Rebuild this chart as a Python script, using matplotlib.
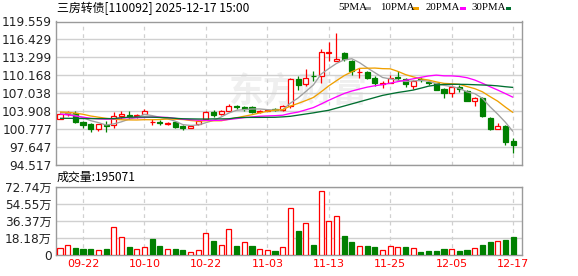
import matplotlib
matplotlib.use("Agg")
import matplotlib.pyplot as plt
from matplotlib.patches import Rectangle
import numpy as np

# ---------------- data ----------------
title = "三房转债[110092] 2025-12-17 15:00"
vol_title = "成交量:195071"
date_ticks = [3, 11, 19, 27, 35, 43, 51, 59]
date_labels = ["09-22", "10-10", "10-22", "11-03", "11-13", "11-25", "12-05", "12-17"]

opens = [102.6, 103.45, 103.67, 102.05, 101.7, 100.9, 101.55, 101.5, 103.15, 103.35,
         103.1, 103.44, 102.0, 102.1, 101.7, 102.0, 101.4, 101.06, 101.65, 102.57,
         103.85, 103.44, 104.02, 104.85, 104.65, 104.7, 103.74, 104.05, 104.3, 104.1,
         104.8, 109.5, 108.6, 110.15, 110.1, 114.1, 112.7, 114.0, 112.7, 110.8,
         110.8, 109.8, 108.75, 108.9, 109.9, 109.47, 108.4, 109.5, 109.0, 108.78,
         107.8, 107.04, 108.2, 107.5, 105.7, 106.17, 102.69, 100.9, 101.36, 98.75]
highs = [103.6, 104.05, 104.0, 102.25, 101.9, 101.75, 102.3, 103.85, 103.9, 103.9,
         103.45, 104.3, 102.5, 102.4, 102.0, 102.15, 101.5, 101.45, 102.4, 104.0,
         104.2, 104.1, 105.2, 105.1, 104.8, 104.85, 104.2, 104.35, 104.5, 104.95,
         109.7, 110.1, 111.3, 110.9, 114.8, 115.95, 117.6, 114.3, 112.9, 111.4,
         111.0, 110.0, 109.2, 110.2, 110.9, 109.65, 109.36, 109.9, 109.35, 108.9,
         108.0, 108.5, 108.5, 107.7, 106.46, 106.46, 102.98, 101.82, 101.53, 99.2]
lows = [102.5, 103.1, 101.9, 101.0, 100.3, 100.5, 100.3, 101.0, 102.5, 102.5,
        102.8, 103.4, 101.5, 101.6, 101.5, 101.0, 100.75, 100.95, 101.5, 102.4,
        103.0, 103.3, 103.9, 104.4, 103.95, 103.7, 103.6, 103.9, 103.95, 103.9,
        104.5, 107.7, 108.3, 109.2, 108.85, 112.6, 112.6, 112.6, 110.3, 109.8,
        109.5, 108.4, 108.0, 108.8, 109.24, 108.2, 107.8, 109.0, 108.5, 107.6,
        106.3, 106.35, 107.3, 105.7, 104.84, 102.98, 100.66, 100.9, 98.05, 96.72]
closes = [103.4, 103.55, 102.1, 101.6, 100.84, 101.7, 101.4, 103.1, 103.4, 103.15,
          103.3, 103.96, 102.05, 101.95, 101.8, 101.25, 100.95, 101.35, 102.28, 103.85,
          103.27, 103.96, 104.8, 104.6, 104.4, 103.85, 104.0, 104.2, 104.2, 104.8,
          109.5, 108.5, 109.8, 110.0, 114.2, 114.25, 113.0, 113.0, 110.9, 110.85,
          109.7, 108.8, 108.8, 109.65, 109.76, 108.6, 109.18, 109.36, 108.9, 107.6,
          107.15, 108.2, 107.8, 105.7, 106.17, 103.1, 100.78, 101.36, 98.63, 98.05]

ma5 = [103.7, 103.6, 103.2, 102.8, 102.29, 101.95, 101.53, 101.73, 102.09, 102.55,
       102.87, 103.38, 103.17, 102.88, 102.61, 102.2, 101.6, 101.46, 101.53, 101.94,
       102.34, 102.94, 103.63, 104.1, 104.21, 104.32, 104.33, 104.21, 104.13, 104.21,
       105.34, 106.24, 107.36, 108.52, 110.4, 111.35, 112.25, 112.89, 113.07, 112.4,
       111.49, 110.65, 109.81, 109.56, 109.34, 109.12, 109.2, 109.31, 109.16, 108.73,
       108.44, 108.24, 107.93, 107.29, 107.0, 106.19, 104.71, 103.42, 102.01, 100.38]
ma10 = [103.8, 103.75, 103.6, 103.4, 103.1, 102.9, 102.7, 102.55, 102.45, 102.42,
        102.41, 102.46, 102.45, 102.49, 102.58, 102.54, 102.49, 102.32, 102.2, 102.27,
        102.27, 102.27, 102.55, 102.81, 103.07, 103.33, 103.64, 103.92, 104.11, 104.21,
        104.83, 105.29, 105.79, 106.33, 107.31, 108.35, 109.25, 110.13, 110.8, 111.4,
        111.42, 111.45, 111.35, 111.32, 110.87, 110.31, 109.92, 109.56, 109.36, 109.04,
        108.78, 108.72, 108.62, 108.23, 107.87, 107.32, 106.48, 105.68, 104.65, 103.69]
ma20 = [103.45, 103.3, 103.1, 102.9, 102.7, 102.6, 102.55, 102.6, 102.75, 102.8,
        102.8, 102.85, 102.9, 102.9, 102.85, 102.7, 102.55, 102.45, 102.38, 102.35,
        102.34, 102.36, 102.5, 102.65, 102.83, 102.93, 103.06, 103.12, 103.16, 103.24,
        103.55, 103.78, 104.17, 104.57, 105.19, 105.84, 106.44, 107.02, 107.45, 107.8,
        108.13, 108.37, 108.57, 108.82, 109.09, 109.33, 109.58, 109.84, 110.08, 110.22,
        110.1, 110.09, 109.99, 109.77, 109.37, 108.81, 108.2, 107.62, 107.0, 106.36]
ma30 = [102.7, 102.7, 102.68, 102.66, 102.65, 102.65, 102.65, 102.65, 102.8, 102.9,
        102.92, 102.92, 102.9, 102.85, 102.8, 102.7, 102.62, 102.6, 102.58, 102.57,
        102.6, 102.6, 102.62, 102.8, 102.85, 102.86, 102.86, 102.87, 102.88, 102.95,
        103.05, 103.25, 103.45, 103.65, 103.88, 104.1, 104.47, 104.84, 105.21, 105.58,
        105.95, 106.32, 106.69, 106.95, 107.2, 107.4, 107.62, 107.95, 108.3, 108.5,
        108.6, 108.62, 108.62, 108.6, 108.55, 108.5, 108.45, 108.35, 108.2, 108.08]

volumes = [7.1, 10.3, 7.5, 6.4, 6.4, 5.0, 6.4, 29.9, 19.2, 8.6,
           6.1, 8.2, 17.1, 9.6, 6.1, 6.4, 5.3, 2.9, 5.0, 23.2,
           15.0, 10.3, 27.4, 9.6, 13.5, 9.6, 6.1, 5.0, 4.3, 8.2,
           49.9, 25.7, 33.9, 10.7, 68.1, 36.0, 41.4, 20.3, 13.9, 9.6,
           9.6, 8.6, 5.0, 9.6, 8.6, 8.6, 7.1, 3.2, 4.3, 4.3,
           6.4, 6.1, 4.3, 5.3, 7.1, 10.7, 13.9, 14.6, 16.0, 19.5]
vol_up = [1, 1, 0, 0, 0, 1, 0, 1, 1, 0, 1, 1, 0, 0, 1, 0, 0, 1, 1, 1,
          0, 1, 1, 0, 1, 0, 1, 1, 0, 1, 1, 0, 1, 0, 1, 1, 1, 0, 0, 1,
          0, 0, 1, 1, 1, 0, 1, 0, 0, 0, 0, 1, 0, 0, 1, 0, 0, 1, 0, 0]

price_ticks = [94.517, 97.647, 100.777, 103.908, 107.038, 110.168, 113.299, 116.429, 119.559]
vol_ticks = [0, 18.185, 36.37, 54.555, 72.74]
vol_tick_labels = ["0", "18.18万", "36.37万", "54.55万", "72.74万"]

ma_names = ["5PMA", "10PMA", "20PMA", "30PMA"]
ma_colors = ["#a0a0a0", "#f0a000", "#ff00ff", "#006f30"]

# ---------------- style ----------------
UP = "#ff0000"
DOWN = "#008000"
GRID = "#d0d0d0"
SPINE = "#9a9a9a"
TXT = "#222222"
W, H = 578, 276

fig = plt.figure(figsize=(W / 100, H / 100), dpi=100)
fig.patch.set_facecolor("white")

def fr(x0, y0, x1, y1):
    return [x0 / W, 1 - y1 / H, (x1 - x0) / W, (y1 - y0) / H]

ax = fig.add_axes(fr(56, 21.5, 522, 165.3))
axv = fig.add_axes(fr(56, 187, 522, 255))

n = len(closes)
x = np.arange(n)
xlim = (-0.52, 60.16)
bw = 0.66

# watermark
ax.text(0.52, 0.52, "东方财富", transform=ax.transAxes, ha="center", va="center",
        fontsize=25, fontweight="bold", color="#efefef", zorder=0,
        family=["Noto Sans CJK SC", "DejaVu Sans"])

# candles
for i in range(n):
    o, h, l, c = opens[i], highs[i], lows[i], closes[i]
    up = c >= o
    col = UP if up else DOWN
    ax.vlines(x[i], l, h, color=col, lw=0.9, zorder=3)
    bot = min(o, c)
    ht = max(abs(c - o), 0.04)
    ax.add_patch(Rectangle((x[i] - bw / 2, bot), bw, ht,
                           facecolor="white" if up else DOWN,
                           edgecolor=col, lw=0.9, zorder=4))

for vals, colr in zip([ma5, ma10, ma20, ma30], ma_colors):
    ax.plot(x, vals, color=colr, lw=0.95, zorder=5, solid_capstyle="butt")

ax.set_xlim(*xlim)
ax.set_ylim(price_ticks[0], price_ticks[-1])
ax.set_yticks(price_ticks)
ax.set_yticklabels([f"{v:.3f}" for v in price_ticks])
ax.set_xticks(date_ticks)
ax.set_xticklabels([])

# volume bars
for i in range(n):
    up = vol_up[i] == 1
    col = UP if up else DOWN
    axv.add_patch(Rectangle((x[i] - bw / 2, 0), bw, volumes[i],
                            facecolor="white" if up else DOWN,
                            edgecolor=col, lw=0.9, zorder=4))
axv.set_xlim(*xlim)
axv.set_ylim(0, vol_ticks[-1])
axv.set_yticks(vol_ticks)
axv.set_yticklabels(vol_tick_labels, family=["DejaVu Sans", "Noto Sans CJK SC"])
axv.set_xticks(date_ticks)
axv.set_xticklabels(date_labels, color=UP)

for a in (ax, axv):
    a.set_facecolor("white")
    for s in a.spines.values():
        s.set_color(SPINE)
        s.set_linewidth(1.0)
    a.tick_params(axis="both", length=0, pad=3, labelsize=8.7, labelcolor=TXT)
    a.yaxis.grid(True, color=GRID, lw=1.0, ls="-", zorder=1)
    a.xaxis.grid(True, color=GRID, lw=0.9, ls=(0, (3, 3)), zorder=1)
    a.set_axisbelow(True)
axv.tick_params(axis="x", labelsize=8, labelcolor=UP, pad=3)

# titles
fig.text(57 / W, 1 - 8 / H, title, ha="left", va="center", fontsize=8.6, color="black",
         family=["Noto Sans CJK SC", "DejaVu Sans"])
fig.text(57 / W, 1 - 177.5 / H, vol_title, ha="left", va="center", fontsize=8.6, color="black",
         family=["Noto Sans CJK SC", "DejaVu Sans"])

# legend
leg_text_x = [338.5, 380, 425.5, 471]
leg_box_x = [365, 413, 460, 505.5]
for name, colr, tx, bx in zip(ma_names, ma_colors, leg_text_x, leg_box_x):
    fig.text(tx / W, 1 - 8 / H, name, ha="left", va="center", fontsize=7.8,
             color="black", family="Liberation Serif")
    fig.add_artist(Rectangle((bx / W, 1 - 10 / H), 5.5 / W, 2.8 / H,
                             transform=fig.transFigure, facecolor=colr,
                             edgecolor="none"))

fig.savefig("out.png", dpi=100, facecolor="white")
